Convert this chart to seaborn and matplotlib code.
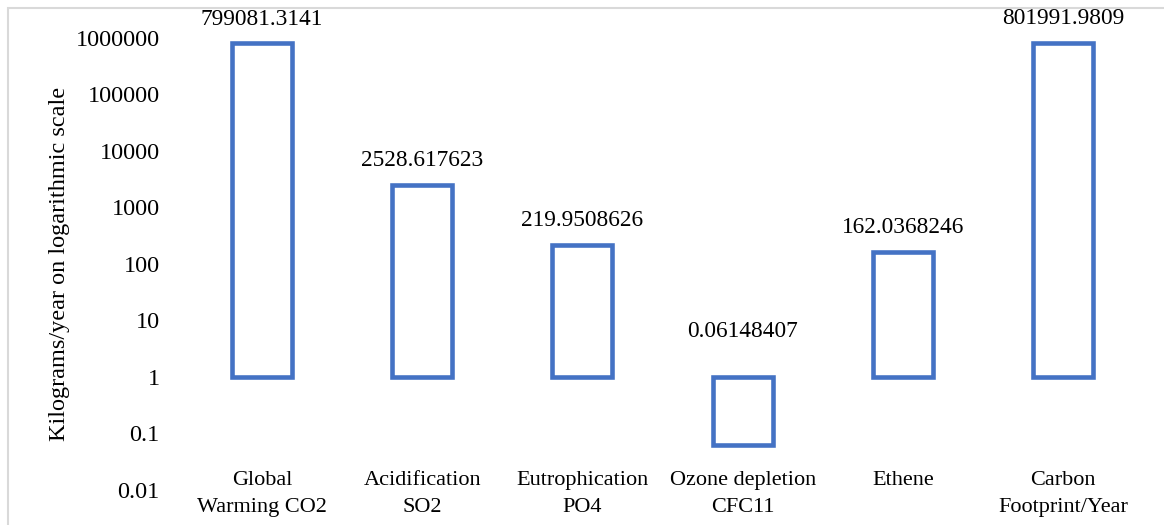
import matplotlib
matplotlib.use("Agg")
import matplotlib.pyplot as plt
import matplotlib.transforms as mtransforms
import seaborn as sns
from matplotlib.patches import Rectangle
from matplotlib.ticker import FixedLocator, FixedFormatter

categories = ["Global\nWarming CO2", "Acidification\nSO2", "Eutrophication\nPO4",
              "Ozone depletion\nCFC11", "Ethene", "Carbon\nFootprint/Year"]
values = [799081.3141, 2528.617623, 219.9508626, 0.06148407, 162.0368246, 801991.9809]
ytick_values = [0.01, 0.1, 1, 10, 100, 1000, 10000, 100000, 1000000]
ytick_labels = ["0.01", "0.1", "1", "10", "100", "1000", "10000", "100000", "1000000"]
ylabel = "Kilograms/year on logarithmic scale"

sns.set_theme(style="white")
plt.rcParams["font.family"] = ["Liberation Serif", "DejaVu Serif"]
BLUE = "#4472C4"

fig = plt.figure(figsize=(11.64, 5.25), dpi=100)
ax = fig.add_axes([0.1563, 0.0667, 0.8258, 0.861])

sns.barplot(x=categories, y=values, ax=ax, width=0.375, color="white",
            edgecolor=BLUE, linewidth=3.3, saturation=1)
ax.set_yscale("log")
base = 1.0
for p, v in zip(ax.patches, values):
    p.set_y(base)
    p.set_height(v - base)
    p.set_joinstyle("miter")
    p.set_facecolor("white")
    p.set_edgecolor(BLUE)

ax.set_xlim(-0.5, len(categories) - 0.5)
ax.set_ylim(0.01, 1e6)
ax.yaxis.set_major_locator(FixedLocator(ytick_values))
ax.yaxis.set_major_formatter(FixedFormatter(ytick_labels))
ax.yaxis.set_minor_locator(FixedLocator([]))
ax.tick_params(axis="y", length=0, pad=16, labelsize=17.5, colors="black")
ax.tick_params(axis="x", length=0, labelbottom=False)

# category labels placed inside the lower band of the plot area (Excel "low" position)
trans = mtransforms.blended_transform_factory(ax.transData, ax.transAxes)
for i, lab in enumerate(categories):
    ax.text(i, 0.043, lab, transform=trans, ha="center", va="top",
            fontsize=16, linespacing=1.6, color="black", clip_on=False)

ax.set_ylabel(ylabel, fontsize=17.5, color="black")
ax.yaxis.set_label_coords(-0.116, 0.5)
ax.set_xlabel("")
for s in ax.spines.values():
    s.set_visible(False)
ax.grid(False)

for i, v in enumerate(values):
    top = max(v, base)
    off = 10 if v >= base else 25
    ax.annotate(f"{v}", xy=(i, top), xytext=(0, off), textcoords="offset points",
                ha="center", va="bottom", fontsize=16.8, color="black", annotation_clip=False)

frame = Rectangle((8 / 1164, -0.1), 1.2, 1.1 - 8 / 525,
                  transform=fig.transFigure, fill=False, edgecolor="#D9D9D9", linewidth=1.5,
                  clip_on=False)
fig.patches.append(frame)

fig.savefig("out.png", dpi=100, facecolor="white")
